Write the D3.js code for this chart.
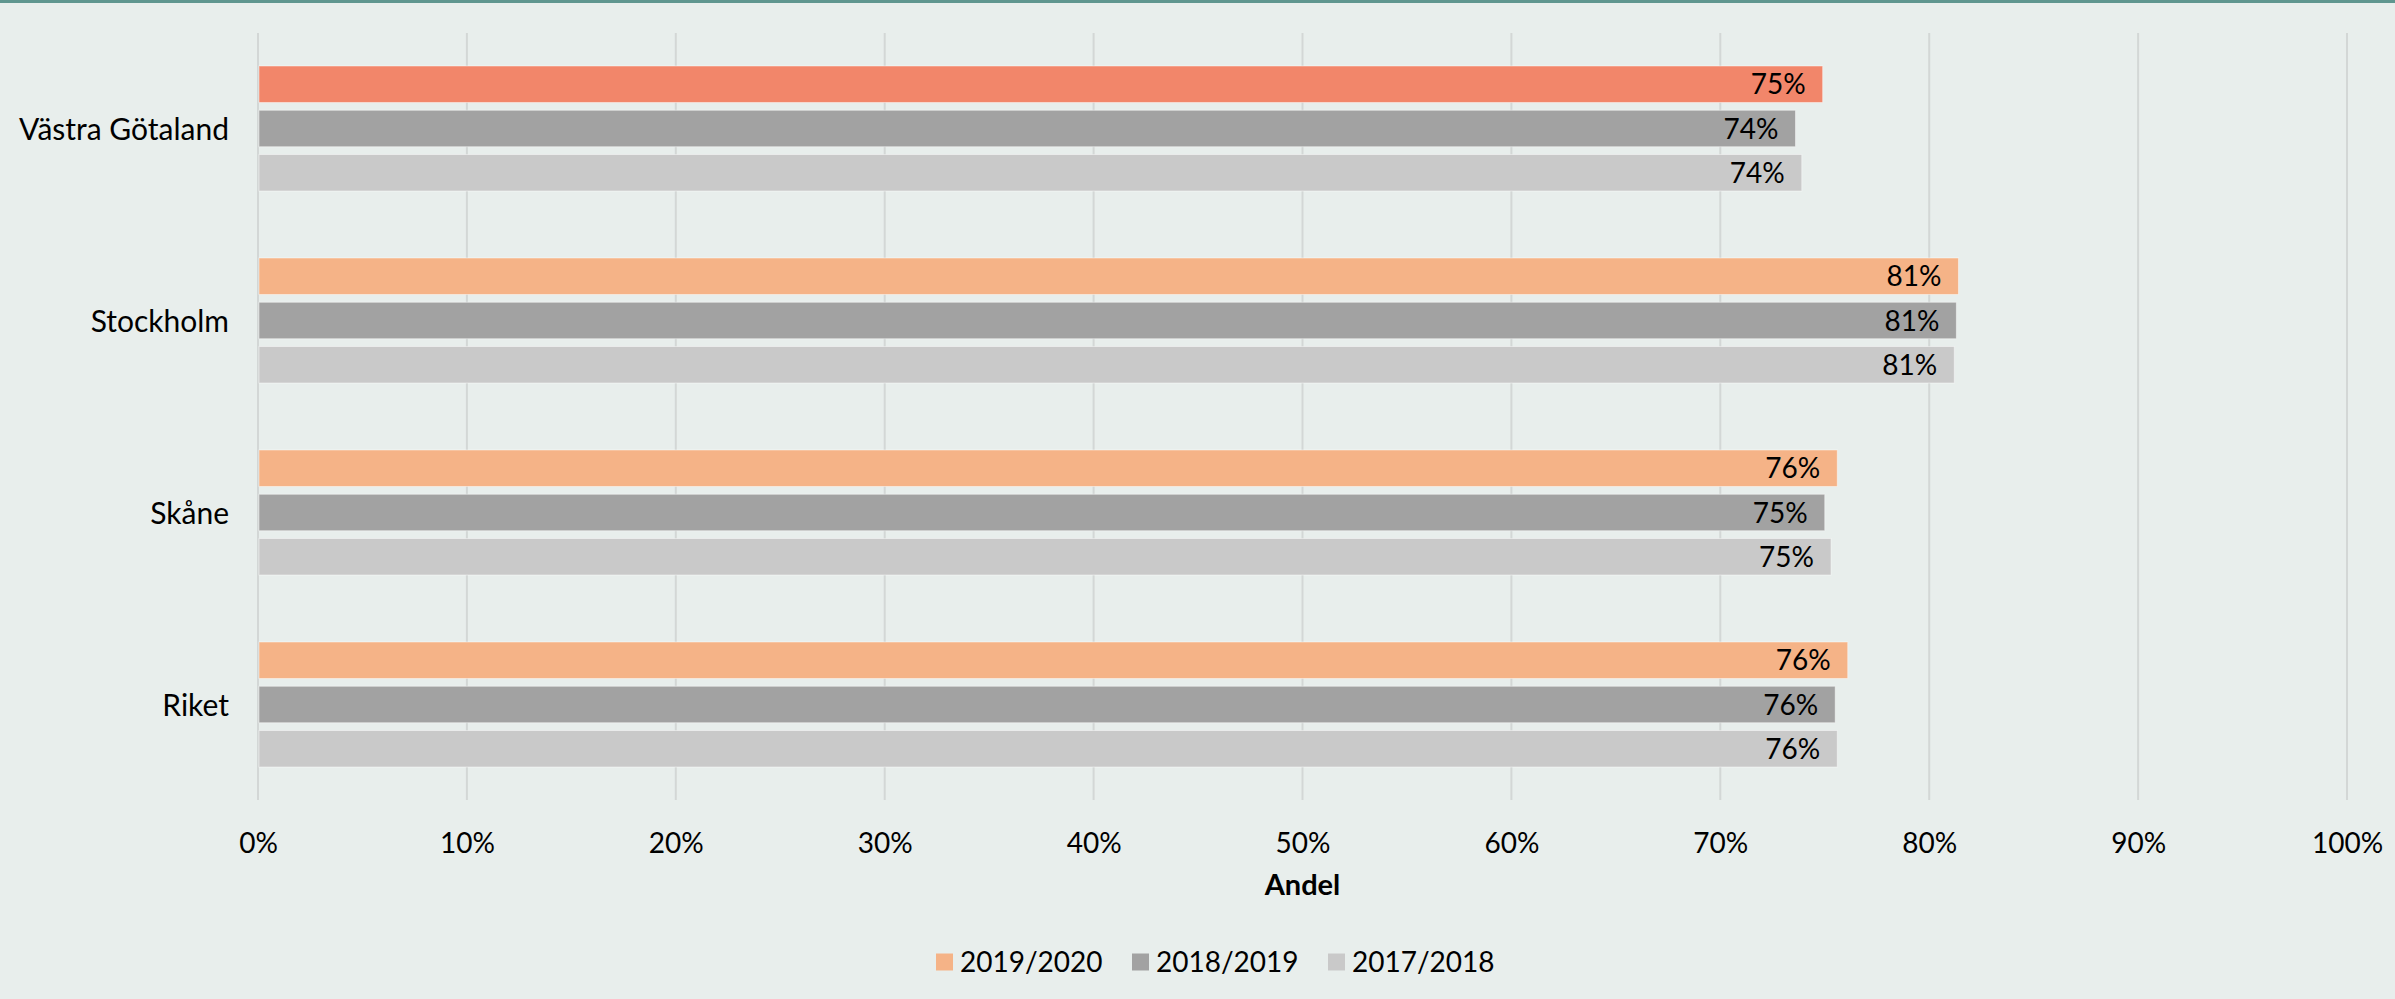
<!DOCTYPE html>
<html>
<head>
<meta charset="utf-8">
<script src="https://cdn.jsdelivr.net/npm/d3@7"></script>
<style>
  html, body { margin: 0; padding: 0; background: #e8eeec; }
  svg { display: block; font-family: Lato, "Open Sans", sans-serif; }
</style>
</head>
<body>
<script>
// data
const categories = ["Västra Götaland", "Stockholm", "Skåne", "Riket"];
const seriesNames = ["2019/2020", "2018/2019", "2017/2018"];
const v2019_2020 = [0.749, 0.814, 0.756, 0.761];
const v2018_2019 = [0.736, 0.813, 0.750, 0.755];
const v2017_2018 = [0.739, 0.812, 0.753, 0.756];
const labels2019_2020 = ["75%", "81%", "76%", "76%"];
const labels2018_2019 = ["74%", "81%", "75%", "76%"];
const labels2017_2018 = ["74%", "81%", "75%", "76%"];
const xTicks = [0, 0.1, 0.2, 0.3, 0.4, 0.5, 0.6, 0.7, 0.8, 0.9, 1];

const W = 2395, H = 999;
const colors = { "2019/2020": "#f5b387", "2018/2019": "#a2a2a2", "2017/2018": "#c9c9c9" };
const highlight = "#f2866a"; // Västra Götaland current year

const rows = [];
categories.forEach((c, i) => {
  rows.push({ cat: c, s: "2019/2020", v: v2019_2020[i], lab: labels2019_2020[i] });
  rows.push({ cat: c, s: "2018/2019", v: v2018_2019[i], lab: labels2018_2019[i] });
  rows.push({ cat: c, s: "2017/2018", v: v2017_2018[i], lab: labels2017_2018[i] });
});

const svg = d3.select("body").append("svg").attr("width", W).attr("height", H);

svg.append("rect").attr("width", W).attr("height", H).attr("fill", "#e8eeec");
svg.append("rect").attr("width", W).attr("height", 3).attr("fill", "#5f968f");

const x = d3.scaleLinear().domain([0, 1]).range([258, 2347]);
const y = d3.scaleBand().domain(categories).range([33, 801]).padding(0);
const yInner = d3.scaleBand().domain(seriesNames).range([33, 158]).paddingInner(0.176).paddingOuter(0);

// gridlines
svg.append("g")
  .selectAll("line")
  .data(xTicks)
  .join("line")
  .attr("x1", d => x(d)).attr("x2", d => x(d))
  .attr("y1", 33).attr("y2", 800)
  .attr("stroke", "#d3d7d6")
  .attr("stroke-width", 2);

// bars
svg.append("g")
  .selectAll("rect")
  .data(rows)
  .join("rect")
  .attr("x", x(0) + 1)
  .attr("y", d => y(d.cat) + yInner(d.s))
  .attr("width", d => x(d.v) - x(0) - 1)
  .attr("height", yInner.bandwidth())
  .attr("fill", d => (d.cat === "Västra Götaland" && d.s === "2019/2020") ? highlight : colors[d.s])
  .attr("stroke", "rgba(255,255,255,0.45)")
  .attr("stroke-width", 1);

// value labels
svg.append("g")
  .selectAll("text")
  .data(rows)
  .join("text")
  .attr("x", d => x(d.v) - 17)
  .attr("y", d => y(d.cat) + yInner(d.s) + yInner.bandwidth() / 2)
  .attr("dy", "0.36em")
  .attr("text-anchor", "end")
  .attr("font-size", 28)
  .attr("fill", "#000")
  .text(d => d.lab);

// category axis labels
svg.append("g")
  .selectAll("text")
  .data(categories)
  .join("text")
  .attr("x", 229)
  .attr("y", d => y(d) + y.bandwidth() / 2)
  .attr("dy", "0.36em")
  .attr("text-anchor", "end")
  .attr("font-size", 30)
  .attr("fill", "#000")
  .text(d => d);

// x axis tick labels
const xAxis = d3.axisBottom(x).tickValues(xTicks).tickFormat(d3.format(".0%")).tickSize(0);
const gx = svg.append("g").attr("transform", "translate(0,830)").call(xAxis);
gx.select(".domain").remove();
gx.selectAll("text")
  .attr("font-size", 28)
  .attr("font-family", "Lato, sans-serif")
  .attr("fill", "#000")
  .attr("dy", "0.71em");

svg.append("text")
  .attr("x", (x(0) + x(1)) / 2)
  .attr("y", 885)
  .attr("dy", "0.36em")
  .attr("text-anchor", "middle")
  .attr("font-size", 29)
  .attr("font-weight", "bold")
  .text("Andel");

// legend
const legend = svg.append("g").attr("transform", "translate(936,962)");
const item = legend.selectAll("g")
  .data(seriesNames)
  .join("g")
  .attr("transform", (d, i) => `translate(${i * 196},0)`);
item.append("rect")
  .attr("x", 0).attr("y", -8.5)
  .attr("width", 17).attr("height", 17)
  .attr("fill", d => colors[d]);
item.append("text")
  .attr("x", 24)
  .attr("dy", "0.36em")
  .attr("font-size", 28)
  .text(d => d);
</script>
</body>
</html>
